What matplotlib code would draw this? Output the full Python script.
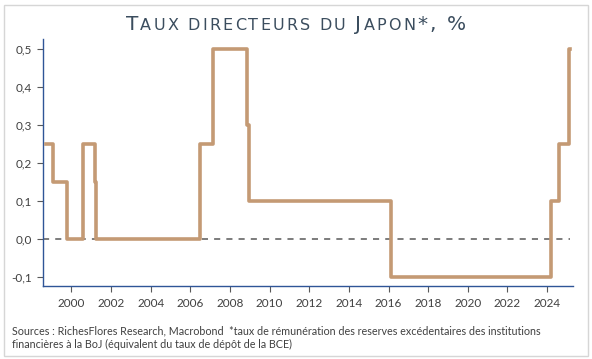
"""Taux directeurs du Japon : step chart, style RichesFlores."""
import numpy as np, matplotlib
matplotlib.use("Agg")
import matplotlib.pyplot as plt
from matplotlib.patches import Rectangle
from matplotlib.ticker import FuncFormatter

INK, LINE, AXC, GRID = "#3b4d5e", "#c49a74", "#2f5597", "#595959"
plt.rcParams["font.family"] = ["Lato", "DejaVu Sans"]

# dates (fractional years) where the rate changes, and the rate from that date
dates = [1998.70, 1999.09, 1999.80, 2000.60, 2001.18, 2001.24, 2006.51,
         2007.13, 2008.88, 2008.97, 2016.10, 2024.21, 2024.60, 2025.09]
rates = [0.25, 0.15, 0.00, 0.25, 0.15, 0.00, 0.25,
         0.50, 0.30, 0.10, -0.10, 0.10, 0.25, 0.50]
end_date = 2025.14
years = list(range(2000, 2025, 2))
yticks = [-0.1, 0.0, 0.1, 0.2, 0.3, 0.4, 0.5]

fig = plt.figure(figsize=(5.92, 3.59), dpi=100)
fig.patch.set_facecolor("white")
fig.add_artist(Rectangle((4 / 592, 3 / 359), 583.5 / 592, 351 / 359, transform=fig.transFigure,
                         fill=False, ec="#d6d6d6", lw=1))
ax = fig.add_axes([42.5 / 592, 1 - 286 / 359, 530.2 / 592, 246.7 / 359])
ax.set_xlim(1998.54, 2025.29)
ax.set_ylim(-0.123, 0.526)

ax.step(dates + [end_date], rates + [rates[-1]], where="post", color=LINE, lw=2.6,
        solid_joinstyle="round", zorder=3)
ax.hlines(0, ax.get_xlim()[0], end_date, color=GRID, lw=1.1, ls=(0, (4, 4)), zorder=2)

ax.set_xticks(years)
ax.set_yticks(yticks)
ax.yaxis.set_major_formatter(FuncFormatter(lambda v, p: f"{v:.1f}".replace(".", ",")))
for s in ("top", "right"):
    ax.spines[s].set_visible(False)
for s in ("left", "bottom"):
    ax.spines[s].set_color(AXC); ax.spines[s].set_linewidth(1)
ax.tick_params(axis="both", colors=GRID, labelcolor="#404040", labelsize=8.5,
               length=4, width=0.8, direction="out")
ax.tick_params(axis="x", pad=4.5)

# titre en petites capitales, lettre par lettre avec interlettrage
title = [("T", 14.5), ("AUX DIRECTEURS DU ", 11.5), ("J", 14.5), ("APON", 11.5), ("*, %", 14.5)]
track = 2.2
ybase = 1 - 30 / 359
fig.canvas.draw()
r = fig.canvas.get_renderer()
W = fig.bbox.width
chars, widths = [], []
for s, sz in title:
    for ch in s:
        t = fig.text(0, ybase, ch, fontsize=sz, color=INK, family="DejaVu Sans",
                     ha="left", va="baseline")
        if ch == " ":
            w = sz * 100 / 72 * 0.32
        else:
            w = t.get_window_extent(r).width
        chars.append(t); widths.append(w + track)
x = (W - sum(widths) + track) / 2
for t, w in zip(chars, widths):
    t.set_x(x / W); x += w

fig.text(12 / 592, 1 - 337.5 / 359,
         "Sources : RichesFlores Research, Macrobond  *taux de rémunération des reserves "
         "excédentaires des institutions\nfinancières à la BoJ (équivalent du taux de dépôt de la BCE)",
         fontsize=7.75, color="#404040", ha="left", va="center", linespacing=1.25)

fig.savefig("out.png", dpi=100, facecolor="white")
